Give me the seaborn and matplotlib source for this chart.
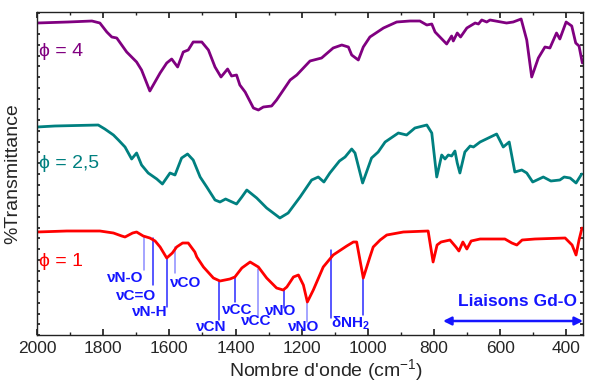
import matplotlib
matplotlib.use("Agg")
import matplotlib.pyplot as plt
import seaborn as sns
import numpy as np
import pandas as pd
from matplotlib.ticker import MultipleLocator

# ---------------- data ----------------
wn_phi4 = [2000, 1906, 1834, 1810, 1789, 1774, 1759, 1744, 1729, 1699, 1684, 1659, 1628, 1608,
           1593, 1575, 1558, 1543, 1528, 1502, 1482, 1462, 1444, 1424, 1412, 1397, 1387, 1371,
           1346, 1331, 1316, 1291, 1276, 1235, 1215, 1175, 1140, 1105, 1079, 1059, 1049, 1029,
           1014, 994, 953, 913, 873, 843, 822, 807, 797, 762, 747, 742, 730, 720, 701, 676, 666,
           656, 641, 631, 581, 561, 537, 520, 505, 485, 465, 450, 430, 420, 401, 384, 372, 362, 352]
t_phi4 = [312, 313, 314, 312, 303, 298, 297, 290, 283, 273, 265, 244, 262, 272,
          276, 268, 283, 285, 293, 293, 285, 268, 258, 266, 259, 260, 250, 243,
          227, 225, 228, 229, 235, 255, 260, 274, 277, 287, 290, 288, 280, 275,
          288, 298, 307, 313, 314, 314, 310, 311, 303, 291, 299, 294, 302, 298, 307, 312, 311,
          315, 313, 315, 312, 313, 316, 295, 258, 277, 288, 287, 302, 296, 313, 309, 292, 289, 272]

wn_phi25 = [2000, 1946, 1815, 1795, 1769, 1754, 1734, 1714, 1699, 1684, 1664, 1638, 1621, 1598,
            1583, 1563, 1545, 1528, 1507, 1487, 1462, 1447, 1430, 1417, 1397, 1381, 1366, 1336,
            1306, 1266, 1241, 1205, 1170, 1150, 1133, 1115, 1086, 1069, 1049, 1039, 1016, 989,
            969, 948, 908, 883, 858, 822, 807, 792, 777, 767, 757, 747, 737, 730, 722, 707, 691,
            681, 661, 611, 591, 573, 556, 535, 520, 502, 470, 447, 420, 407, 389, 371, 354]
t_phi25 = [208, 209, 210, 206, 200, 195, 188, 176, 182, 170, 162, 156, 151, 162,
           160, 177, 181, 175, 158, 148, 135, 133, 136, 134, 131, 138, 145, 137,
           127, 117, 122, 138, 155, 158, 153, 162, 174, 178, 186, 182, 152, 177,
           183, 193, 202, 200, 207, 210, 202, 158, 180, 176, 180, 179, 184, 172, 162, 183, 189,
           188, 193, 201, 188, 193, 163, 165, 162, 153, 158, 154, 155, 158, 157, 152, 161]

wn_phi1 = [2000, 1910, 1810, 1769, 1744, 1734, 1711, 1699, 1679, 1659, 1643, 1628, 1608, 1591,
           1578, 1560, 1543, 1523, 1517, 1497, 1467, 1447, 1417, 1402, 1381, 1356, 1331, 1306,
           1276, 1256, 1245, 1225, 1210, 1195, 1183, 1165, 1135, 1105, 1064, 1044, 1034, 1014,
           994, 984, 963, 943, 893, 818, 803, 791, 779, 752, 734, 725, 713, 701, 688, 661, 586,
           565, 550, 534, 495, 404, 383, 371, 362, 353]
t_phi1 = [103, 104, 104, 102, 99, 98, 102, 103, 99, 97, 94, 88, 77, 82,
          88, 92, 92, 83, 78, 68, 57, 54, 56, 58, 67, 73, 68, 57,
          47, 45, 48, 58, 60, 50, 33, 45, 68, 80, 89, 93, 93, 57,
          78, 88, 95, 100, 103, 104, 73, 90, 93, 95, 88, 84, 93, 86, 94, 96, 96,
          92, 90, 95, 96, 97, 90, 80, 95, 107]

series_names = ["\u03d5 = 4", "\u03d5 = 2,5", "\u03d5 = 1"]
series_colors = ["#800080", "#008080", "#ff0000"]
name_pos = [(1995, 284), (1995, 172), (1995, 74)]

# band assignments
band_labels = ["\u03bdN-O", "\u03bdC=O", "\u03bdN-H", "\u03bdCO", "\u03bdCN", "\u03bdCC", "\u03bdCC",
               "\u03bdNO", "\u03bdNO", "\u03b4NH$_\\mathbf{2}$"]
band_label_x = [1732, 1701, 1659, 1550, 1474, 1394, 1338, 1263, 1193, 1053]
band_label_y = [57, 39, 23, 52, 8, 25, 14, 24, 8, 12]
line_x = [1677, 1648, 1608, 1583, 1449, 1402, 1331, 1253, 1185, 1112, 1014]
line_top = [99, 97, 77, 88, 54, 58, 66, 45, 33, 85, 57]
line_bottom = [65, 50, 28, 62, 15, 33, 18, 27, 13, 17, 20]
line_light = [True, False, False, True, False, False, True, False, True, False, False]

gdo_text = "Liaisons Gd-O"
gdo_range = (773, 350)

# ---------------- figure ----------------
sns.set_theme(style="ticks")
plt.rcParams["font.family"] = ["Liberation Sans", "DejaVu Sans"]
plt.rcParams["mathtext.fontset"] = "custom"
plt.rcParams["mathtext.rm"] = "Liberation Sans"
plt.rcParams["mathtext.bf"] = "Liberation Sans:bold"

fig = plt.figure(figsize=(5.91, 3.83), dpi=100)
ax = fig.add_axes([37 / 591, 1 - 335 / 383, (583 - 37) / 591, (335 - 12) / 383])

frames = []
for name, wn, t in zip(series_names, [wn_phi4, wn_phi25, wn_phi1], [t_phi4, t_phi25, t_phi1]):
    frames.append(pd.DataFrame({"wn": wn, "T": t, "serie": name}))
df = pd.concat(frames, ignore_index=True)

sns.lineplot(data=df, x="wn", y="T", hue="serie", palette=dict(zip(series_names, series_colors)),
             estimator=None, linewidth=2.0, ax=ax, legend=False)
for ln in ax.get_lines():
    ln.set_solid_joinstyle("round")
    ln.set_solid_capstyle("round")

for name, col, (x, y) in zip(series_names, series_colors, name_pos):
    ax.text(x, y, name, color=col, fontsize=14, ha="left", va="center")

for x, yt, yb, light in zip(line_x, line_top, line_bottom, line_light):
    ax.plot([x, x], [yb, yt], color="#8c8cff" if light else "#2a2aff", lw=1.1, zorder=1)

for lab, x, y in zip(band_labels, band_label_x, band_label_y):
    ax.text(x, y, lab, color="#1515ff", fontsize=11, fontweight="bold", ha="center", va="center")

ax.text(548, 33, gdo_text, color="#1515ff", fontsize=12.5, fontweight="bold", ha="center", va="center")
ax.annotate("", xy=(gdo_range[1], 14), xytext=(gdo_range[0], 14),
            arrowprops=dict(arrowstyle="<|-|>", color="#1515ff", lw=1.8, mutation_scale=12,
                            shrinkA=0, shrinkB=0))

ax.set_xlim(2000, 350)
ax.set_ylim(0, 323)
ax.xaxis.set_major_locator(MultipleLocator(200))
ax.xaxis.set_minor_locator(MultipleLocator(100))
ax.yaxis.set_major_locator(MultipleLocator(10.75))
ax.set_yticklabels([])
ax.tick_params(axis="both", which="both", direction="in", top=True, right=True, color="#222222")
ax.tick_params(axis="x", which="major", length=4, labelsize=12.5, pad=4)
ax.tick_params(axis="x", which="minor", length=2.5)
ax.tick_params(axis="y", which="major", length=2.5)
for s in ax.spines.values():
    s.set_color("#222222")
    s.set_linewidth(1.0)

ax.set_xlabel("Nombre d'onde (cm$^{\\mathregular{-1}}$)", fontsize=14, labelpad=1)
ax.xaxis.set_label_coords((326 - 37) / 546, -0.068)
ax.set_ylabel("%Transmittance", fontsize=14, labelpad=8)

fig.savefig("out.png", dpi=100)
